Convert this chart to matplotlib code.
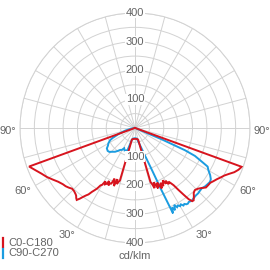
import numpy as np
import matplotlib
matplotlib.use("Agg")
import matplotlib.pyplot as plt
from matplotlib.lines import Line2D
import matplotlib.transforms as mtransforms

plt.rcParams['font.family'] = ['Liberation Sans', 'DejaVu Sans']

# ---- data (cd/klm) ----
series_names = ["C0-C180", "C90-C270"]

c0_angles = [0, 5, 10, 14, 15, 16, 17, 18, 19, 20, 21, 22, 23, 24, 25, 26, 27, 28, 29, 30,
             31, 32, 33, 34, 35, 36, 37, 38, 39, 40, 41, 42, 43, 44, 46, 48, 50, 52, 54, 56,
             58, 60, 62, 64, 66, 68, 70, 72, 80, 90]
c0_values = [38, 38, 39, 41, 43, 195, 205, 220, 200, 212, 225, 205, 218, 230, 210, 225, 215, 206, 222, 212,
             228, 220, 229, 240, 262, 285, 310, 323, 324, 318, 312, 305, 302, 300, 304, 312, 322, 323, 324, 330,
             336, 344, 352, 364, 378, 388, 395, 5, 2, 0]

c180_angles = [0, 5, 10, 14, 15, 16, 17, 18, 19, 20, 21, 22, 23, 24, 25, 26, 27, 28, 29, 30,
               31, 32, 33, 34, 35, 36, 37, 38, 39, 40, 41, 42, 43, 44, 46, 48, 50, 52, 55, 58,
               61, 64, 67, 70, 72, 80, 90]
c180_values = [38, 38, 39, 41, 43, 190, 196, 205, 188, 215, 200, 190, 210, 211, 220, 205, 218, 222, 212, 228,
               233, 248, 258, 268, 282, 290, 300, 312, 322, 318, 312, 309, 307, 305, 304, 310, 315, 318, 326, 338,
               351, 362, 376, 392, 5, 2, 0]

c90_angles = [0, 5, 10, 15, 20, 22, 23, 24, 25, 26, 27, 28, 29, 30, 31, 32, 33, 34, 35, 36,
              38, 40, 42, 44, 46, 48, 50, 52, 54, 55, 56, 58, 60, 62, 63, 65, 66, 67, 68, 75, 90]
c90_values = [36, 36, 38, 55, 105, 160, 230, 325, 305, 318, 300, 312, 308, 314, 310, 318, 315, 320, 321, 318,
              321, 318, 316, 316, 314, 313, 317, 319, 321, 320, 318, 308, 295, 286, 265, 230, 190, 100, 10, 2, 0]

c270_angles = [0, 5, 10, 15, 17, 19, 22, 25, 28, 31, 34, 37, 40, 44, 47, 50, 54, 57, 60, 64,
               66, 70, 75, 80, 85, 90]
c270_values = [36, 36, 38, 42, 60, 87, 84, 86, 80, 89, 92, 100, 108, 115, 122, 124, 121, 112, 107, 96,
               85, 60, 35, 15, 5, 0]

r_ticks = [50, 100, 150, 200, 250, 300, 350, 400]
r_labels = [100, 200, 300, 400]
angle_labels = [30, 60, 90]

RED = "#d7141e"
BLUE = "#1b9ce0"
GRID = "#d2d2d2"
TXT = "#646464"
FS = 8

fig = plt.figure(figsize=(2.7, 2.7), dpi=100)
ax = fig.add_axes([0.074, 0.100, 0.852, 0.852], projection='polar')
ax.set_theta_zero_location('S')
ax.set_theta_direction(1)
ax.set_rlim(0, 400)
ax.set_xticks(np.deg2rad(np.arange(0, 360, 15)))
ax.set_xticklabels([])
ax.set_yticks(r_ticks)
ax.set_yticklabels([])
ax.grid(True, color=GRID, linewidth=0.7)
ax.spines['polar'].set_color(GRID)
ax.spines['polar'].set_linewidth(0.7)


def full_curve(neg_angles, neg_values, pos_angles, pos_values):
    th = [-a for a in neg_angles[::-1]] + list(pos_angles[1:])
    rr = list(neg_values[::-1]) + list(pos_values[1:])
    return np.deg2rad(th), np.array(rr)


tb, rb = full_curve(c270_angles, c270_values, c90_angles, c90_values)
tr, rr = full_curve(c180_angles, c180_values, c0_angles, c0_values)
ax.plot(tb, rb, color=BLUE, lw=1.4, solid_joinstyle='miter', clip_on=False)
ax.plot(tr, rr, color=RED, lw=1.4, solid_joinstyle='miter', clip_on=False)

# radial labels on top and bottom
for v in r_labels:
    for th in (np.pi, 0.0):
        ax.text(th, v, str(v), ha='center', va='center', fontsize=FS, color=TXT,
                bbox=dict(facecolor='white', edgecolor='none', pad=0.3), zorder=5)

# angle labels
off = mtransforms.offset_copy(ax.transData, fig=fig, x=0, y=-3, units='dots')
for a in angle_labels:
    rpos = 412 if a == 90 else 418
    ax.text(np.deg2rad(a), rpos, f"{a}°", ha='left', va='center', fontsize=FS,
            color=TXT, transform=off, clip_on=False)
    ax.text(np.deg2rad(-a), rpos, f"{a}°", ha='right', va='center', fontsize=FS,
            color=TXT, transform=off, clip_on=False)

fig.text(0.5, 1 - 256 / 270, "cd/klm", ha='center', va='center', fontsize=FS, color=TXT)

# legend
for i, (name, col) in enumerate(zip(series_names, [RED, BLUE])):
    yc = 1 - (242.5 + 10.5 * i) / 270
    fig.add_artist(Line2D([3 / 270, 3 / 270], [yc - 4.5 / 270, yc + 4.5 / 270],
                          color=col, lw=1.6, transform=fig.transFigure))
    fig.text(8 / 270, yc, name, ha='left', va='center', fontsize=FS, color=TXT)

fig.savefig("out.png", dpi=100)
